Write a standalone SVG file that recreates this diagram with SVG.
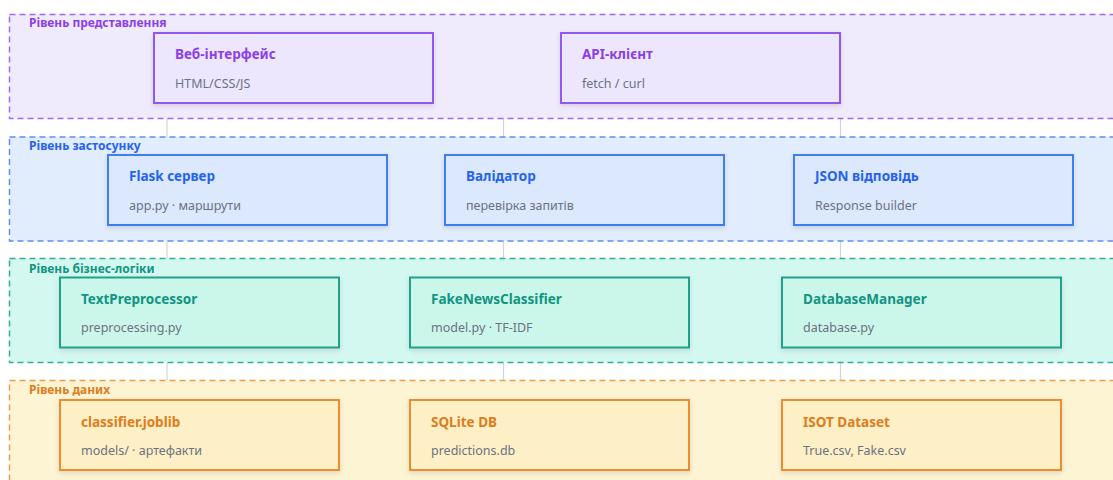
<svg xmlns="http://www.w3.org/2000/svg" width="1113" height="480" viewBox="0 0 1113 480">
<defs>
<filter id="sh" x="-10%" y="-20%" width="120%" height="150%">
<feDropShadow dx="0" dy="2" stdDeviation="2.5" flood-color="#000" flood-opacity="0.12"/>
</filter>
<style>
.layer{stroke-width:1.5;stroke-dasharray:6 4}
.lbl{font-family:"Noto Sans","Open Sans",sans-serif;font-size:12px;font-weight:bold}
.node{stroke-width:2;filter:url(#sh)}
.t{font-family:"Noto Sans","Open Sans",sans-serif;font-size:13.5px;font-weight:bold}
.s{font-family:"Noto Sans","Open Sans",sans-serif;font-size:12.5px;fill:#6b7280}
.conn{stroke:#d1d5db;stroke-width:1.2;fill:none}
.p .layer{fill:#f0eafd;stroke:#9f67f5}
.p .lbl,.p .t{fill:#8b3fe8}
.p .node{fill:#ede7fd;stroke:#9059ee}
.a .layer{fill:#e1ecfd;stroke:#5f8ff0}
.a .lbl,.a .t{fill:#2563eb}
.a .node{fill:#dbe8fe;stroke:#3f7ef0}
.b .layer{fill:#d3f8ef;stroke:#2fae98}
.b .lbl,.b .t{fill:#119482}
.b .node{fill:#cbf6ea;stroke:#22a08e}
.d .layer{fill:#fdf4d4;stroke:#ee9a48}
.d .lbl,.d .t{fill:#e07c1b}
.d .node{fill:#fdefc6;stroke:#ea8d2e}
</style>
</defs>
<rect width="1113" height="480" fill="#ffffff"/>
<g id="connectors">
<line class="conn" x1="167" y1="118" x2="167" y2="137"/>
<line class="conn" x1="503.5" y1="118" x2="503.5" y2="137"/>
<line class="conn" x1="840.5" y1="118" x2="840.5" y2="137"/>
<line class="conn" x1="167" y1="241" x2="167" y2="258"/>
<line class="conn" x1="503.5" y1="241" x2="503.5" y2="258"/>
<line class="conn" x1="840.5" y1="241" x2="840.5" y2="258"/>
<line class="conn" x1="167" y1="363" x2="167" y2="380"/>
<line class="conn" x1="503.5" y1="363" x2="503.5" y2="380"/>
<line class="conn" x1="840.5" y1="363" x2="840.5" y2="380"/>
</g>
<g id="layer-presentation" class="p">
<rect class="layer" x="9.5" y="14.5" width="1120" height="104"/>
<text class="lbl" x="29" y="27">Рівень представлення</text>
<g id="web-ui"><rect class="node" x="154" y="33" width="279" height="70"/><text class="t" x="175" y="58.5">Веб-інтерфейс</text><text class="s" x="175" y="87.5">HTML/CSS/JS</text></g>
<g id="api-client"><rect class="node" x="561" y="33" width="279" height="70"/><text class="t" x="582" y="58.5">API-клієнт</text><text class="s" x="582" y="87.5">fetch / curl</text></g>
</g>
<g id="layer-application" class="a">
<rect class="layer" x="9.5" y="137" width="1120" height="104"/>
<text class="lbl" x="29" y="149.5">Рівень застосунку</text>
<g id="flask"><rect class="node" x="108" y="155" width="279" height="70"/><text class="t" x="129" y="181">Flask сервер</text><text class="s" x="129" y="210">app.py · маршрути</text></g>
<g id="validator"><rect class="node" x="445" y="155" width="279" height="70"/><text class="t" x="466" y="181">Валідатор</text><text class="s" x="466" y="210">перевірка запитів</text></g>
<g id="json-response"><rect class="node" x="794" y="155" width="279" height="70"/><text class="t" x="815" y="181">JSON відповідь</text><text class="s" x="815" y="210">Response builder</text></g>
</g>
<g id="layer-business" class="b">
<rect class="layer" x="9.5" y="258.5" width="1120" height="104"/>
<text class="lbl" x="29" y="272.5">Рівень бізнес-логіки</text>
<g id="text-preprocessor"><rect class="node" x="60" y="277.5" width="279" height="70"/><text class="t" x="81" y="303.5">TextPreprocessor</text><text class="s" x="81" y="332">preprocessing.py</text></g>
<g id="fake-news-classifier"><rect class="node" x="410" y="277.5" width="279" height="70"/><text class="t" x="431" y="303.5">FakeNewsClassifier</text><text class="s" x="431" y="332">model.py · TF-IDF</text></g>
<g id="database-manager"><rect class="node" x="782" y="277.5" width="279" height="70"/><text class="t" x="803" y="303.5">DatabaseManager</text><text class="s" x="803" y="332">database.py</text></g>
</g>
<g id="layer-data" class="d">
<rect class="layer" x="9.5" y="380.5" width="1120" height="110"/>
<text class="lbl" x="29" y="394">Рівень даних</text>
<g id="classifier-joblib"><rect class="node" x="60" y="400" width="279" height="70"/><text class="t" x="81" y="426.5">classifier.joblib</text><text class="s" x="81" y="455">models/ · артефакти</text></g>
<g id="sqlite-db"><rect class="node" x="410" y="400" width="279" height="70"/><text class="t" x="431" y="426.5">SQLite DB</text><text class="s" x="431" y="455">predictions.db</text></g>
<g id="isot-dataset"><rect class="node" x="782" y="400" width="279" height="70"/><text class="t" x="803" y="426.5">ISOT Dataset</text><text class="s" x="803" y="455">True.csv, Fake.csv</text></g>
</g>
</svg>
